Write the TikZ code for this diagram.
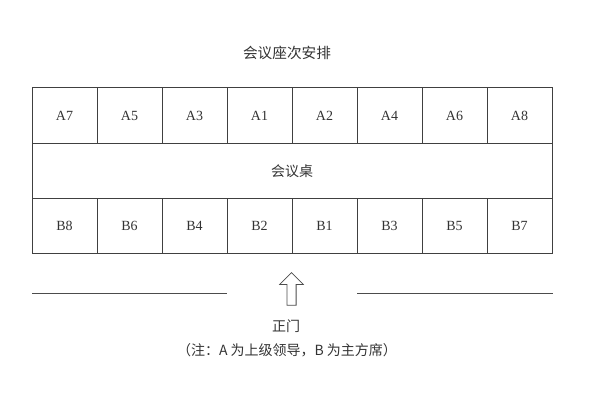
\documentclass[tikz,border=0pt]{standalone}
\usepackage{fontspec}
\setmainfont{Liberation Serif}
\newfontfamily\cjk{Noto Sans CJK SC}
\usetikzlibrary{shapes.arrows}
\tikzset{
  seat/.style={draw=black!75, line width=0.6pt, minimum width=48.75pt, minimum height=41.6pt, inner sep=0pt, font=\fontsize{10.5}{12}\selectfont, text=black!80},
  cn/.style={font=\cjk\fontsize{10.5}{12}\selectfont, text=black!80, inner sep=0pt},
}
\begin{document}
\begin{tikzpicture}[x=0.75pt, y={(0,-0.75pt)}]
\useasboundingbox (0,0) rectangle (600,400);
\node[cn, font=\cjk\fontsize{11}{13}\selectfont] (title) at (287,53) {会议座次安排};
% seats of the guests
\foreach \lab [count=\i] in {A7,A5,A3,A1,A2,A4,A6,A8}
  \node[seat] (\lab) at (32+65*\i-32.5,115.5) {\lab};
% the table
\node[seat, minimum width=390pt, minimum height=41.25pt, cn] (table) at (292,170.8) {会议桌};
% seats of the hosts
\foreach \lab [count=\i] in {B8,B6,B4,B2,B1,B3,B5,B7}
  \node[seat] (\lab) at (32+65*\i-32.5,225.8) {\lab};
% the wall with the door
\coordinate (wl1) at (32,293.5);
\coordinate (wl2) at (227,293.5);
\coordinate (wr1) at (357,293.5);
\coordinate (wr2) at (553,293.5);
\draw[line width=0.8pt, black!70] (wl1)--(wl2) (wr1)--(wr2);
\node[single arrow, draw=black!70, line width=0.6pt, shape border rotate=90, minimum width=17pt, minimum height=24.5pt, inner sep=3.15pt, single arrow head extend=5.36pt, single arrow head indent=0pt] (arrow) at (291.5,291.3) {};
\node[cn] (door) at (286,326) {正门};
\node[cn] (note) at (287,350) {（注：A 为上级领导，B 为主方席）};
\end{tikzpicture}
\end{document}
